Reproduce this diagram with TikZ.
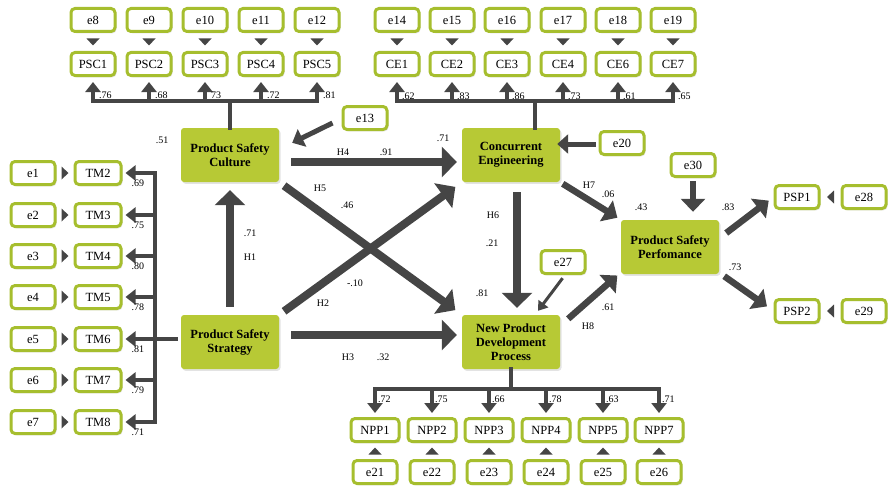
\documentclass[tikz,border=0pt]{standalone}
\usepackage{fontspec}
\setmainfont{Liberation Serif}
\usetikzlibrary{arrows.meta,shadows,decorations.markings}
\definecolor{lime}{HTML}{B7C935}
\definecolor{limeedge}{HTML}{A6BE2E}
\definecolor{arrowgray}{HTML}{454545}

\begin{document}
\begin{tikzpicture}[x=1pt,y=-1pt,
  softshadow/.style={drop shadow={opacity=0.22,shadow xshift=1.5pt,shadow yshift=-1.8pt}},
  obs/.style={draw=limeedge, line width=3pt, fill=white, rounded corners=4pt,
    minimum width=44pt, minimum height=23pt, inner sep=1pt,
    font=\fontsize{12.5}{13}\selectfont, softshadow},
  wideobs/.style={obs, minimum width=48pt},
  lat/.style={fill=lime, rounded corners=3pt, minimum width=98pt, minimum height=54pt,
    align=center, inner sep=2pt, font=\bfseries\fontsize{12.5}{14}\selectfont, softshadow},
  num/.style={font=\fontsize{10}{12}\selectfont, inner sep=0pt},
  big/.style={draw=arrowgray, line width=8pt, -{Triangle[length=15pt,width=30pt]}},
  mid/.style={draw=arrowgray, line width=6.5pt, -{Triangle[length=13pt,width=24pt]}},
  small/.style={draw=arrowgray, line width=5pt, -{Triangle[length=11pt,width=19pt]}},
  load/.style={draw=arrowgray, line width=4.5pt, -{Triangle[length=10pt,width=15pt]}},
  thin/.style={draw=arrowgray, line width=3pt, -{Triangle[length=9pt,width=12pt]}},
  busline/.style={draw=arrowgray, line width=4.5pt, line cap=rect},
  tip/.style={decoration={markings, mark=at position 0.5 with
    {\fill[arrowgray] (-3.5pt,-6.5pt) -- (3.5pt,0pt) -- (-3.5pt,6.5pt) -- cycle;}}, decorate}
]
\useasboundingbox (0,0) rectangle (891,487);

% ---------- latent constructs ----------
\node[lat] (PSC) at (230,155) {Product Safety\\Culture};
\node[lat] (PSS) at (230,342) {Product Safety\\Strategy};
\node[lat] (CE)  at (511,155) {Concurrent\\Engineering};
\node[lat] (NPD) at (511,342) {New Product\\Development\\Process};
\node[lat] (PSPerf) at (670,247) {Product Safety\\Perfomance};

% ---------- Product Safety Culture indicators ----------
\coordinate (pscbus) at (230,101);
\foreach \n/\x [count=\i from 8] in {1/93,2/149,3/205,4/261,5/317}{
  \node[obs] (e\i) at (\x,20) {e\i};
  \node[obs] (PSC\n) at (\x,64) {PSC\n};
  \path[tip] (e\i) -- (PSC\n);
}
\draw[busline] (PSC.north) -- (pscbus);
\draw[busline] (PSC1 |- pscbus) -- (PSC5 |- pscbus);
\foreach \n/\v in {1/.76,2/.68,3/73,4/.72,5/.81}{
  \draw[load, shorten >=5pt] (PSC\n |- pscbus) -- (PSC\n.south);
  \node[num, anchor=west] at ([xshift=6pt,yshift=6pt]PSC\n |- pscbus) {\v};
}

% ---------- Concurrent Engineering indicators ----------
\coordinate (cebus) at (535,101);
\foreach \n/\x [count=\i from 14] in {1/397,2/452,3/507,4/563,6/618,7/673}{
  \node[obs] (e\i) at (\x,20) {e\i};
  \node[obs] (CE\n) at (\x,64) {CE\n};
  \path[tip] (e\i) -- (CE\n);
}
\draw[busline] (CE.north -| cebus) -- (cebus);
\draw[busline] (CE1 |- cebus) -- (CE7 |- cebus);
\foreach \n/\v in {1/.62,2/.83,3/.86,4/.73,6/.61,7/.65}{
  \draw[load, shorten >=5pt] (CE\n |- cebus) -- (CE\n.south);
  \node[num, anchor=west] at ([xshift=5pt,yshift=5pt]CE\n |- cebus) {\v};
}

% ---------- Product Safety Strategy indicators ----------
\coordinate (tmbus) at (155,339);
\foreach \n/\y [count=\i from 1] in {2/173,3/215,4/256,5/297,6/339,7/380,8/422}{
  \node[obs] (e\i) at (33,\y) {e\i};
  \node[obs, minimum width=46pt] (TM\n) at (98,\y) {TM\n};
  \path[tip] (e\i) -- (TM\n);
}
\draw[busline] (tmbus |- TM2) -- (tmbus |- TM8);
\draw[busline] (tmbus) -- ([xshift=-5pt]tmbus -| PSS.west);
\foreach \n/\v in {2/.69,3/.75,4/.80,5/.78,6/.81,7/.79,8/.71}{
  \draw[load, shorten >=3pt] (tmbus |- TM\n) -- (TM\n.east);
  \node[num, anchor=west] at ([xshift=9pt,yshift=-10pt]TM\n.east) {\v};
}

% ---------- New Product Development Process indicators ----------
\coordinate (nppbus) at (511,389);
\foreach \n/\x [count=\i from 21] in {1/375,2/432,3/489,4/546,5/603,7/659}{
  \node[wideobs] (NPP\n) at (\x,430) {NPP\n};
  \node[obs] (e\i) at (\x,472) {e\i};
  \path[tip] (e\i) -- (NPP\n);
}
\draw[busline] (NPD.south) -- (nppbus);
\draw[busline] (NPP1 |- nppbus) -- (NPP7 |- nppbus);
\foreach \n/\v in {1/.72,2/.75,3/.66,4/.78,5/.63,7/.71}{
  \draw[load, shorten >=4pt] (NPP\n |- nppbus) -- (NPP\n.north);
  \node[num, anchor=west] at ([xshift=3pt,yshift=-10pt]NPP\n |- nppbus) {\v};
}

% ---------- Product Safety Performance indicators ----------
\node[obs] (PSP1) at (797,197) {PSP1};
\node[obs] (e28)  at (864,197) {e28};
\node[obs] (PSP2) at (797,311) {PSP2};
\node[obs] (e29)  at (864,311) {e29};
\path[tip] (e28) -- (PSP1);
\path[tip] (e29) -- (PSP2);
\draw[mid, shorten >=6pt] ([xshift=7pt,yshift=14pt]PSPerf.east) -- (PSP1.west);
\draw[mid, shorten >=8pt] ([xshift=5pt,yshift=-2pt]PSPerf.south east) -- (PSP2.west);

% ---------- disturbance terms ----------
\node[obs] (e13) at (365,118) {e13};
\node[obs] (e20) at (622,143) {e20};
\node[obs] (e27) at (563,262) {e27};
\node[obs] (e30) at (693,165) {e30};
\draw[small] ([xshift=-9pt,yshift=-5pt]e13.west) -- ([xshift=13pt,yshift=-15pt]PSC.north east);
\draw[small, shorten <=3pt, shorten >=-3pt] ([yshift=-1pt]e20.west) -- ([yshift=-1pt]e20.west -| CE.east);
\draw[mid, shorten <=3pt, shorten >=8pt] (e30.south) -- (e30.south |- PSPerf.north);
\draw[thin, shorten <=4pt, shorten >=5pt] ([xshift=2pt]e27.south) -- ([xshift=24pt]NPD.north);

% ---------- structural paths ----------
\draw[big, shorten <=8pt, shorten >=8pt] (PSS.north) -- (PSC.south);
\draw[big, shorten <=12pt, shorten >=5pt] ([yshift=-7pt]PSC.east) -- ([yshift=-7pt]CE.west);
\draw[big, shorten <=12pt, shorten >=5pt] ([yshift=7pt]PSS.east) -- ([yshift=7pt]NPD.west);
\draw[big, shorten <=6pt, shorten >=8pt] (PSC.south east) -- (NPD.north west);
\draw[big, shorten <=6pt, shorten >=8pt] (PSS.north east) -- (CE.south west);
\draw[big, shorten <=10pt, shorten >=7pt] ([xshift=6pt]CE.south) -- ([xshift=6pt]NPD.north);
\draw[mid, shorten <=3pt, shorten >=4pt] (CE.south east) -- (PSPerf.north west);
\draw[mid, shorten >=2pt] ([xshift=8pt,yshift=-4pt]NPD.north east) -- ([xshift=-2pt]PSPerf.south west);

% ---------- path labels ----------
\node[num] at (162,140) {.51};
\node[num] at (250,233) {.71};
\node[num] at (250,257) {H1};
\node[num] at (343,152) {H4};
\node[num] at (386,152) {.91};
\node[num] at (443,138) {.71};
\node[num] at (320,188) {H5};
\node[num] at (347,205) {.46};
\node[num] at (355,283) {-.10};
\node[num] at (323,303) {H2};
\node[num] at (348,357) {H3};
\node[num] at (383,357) {.32};
\node[num] at (493,215) {H6};
\node[num] at (492,243) {.21};
\node[num] at (482,293) {.81};
\node[num] at (589,185) {H7};
\node[num] at (608,194) {.06};
\node[num] at (641,207) {.43};
\node[num] at (728,207) {.83};
\node[num] at (735,267) {.73};
\node[num] at (608,307) {.61};
\node[num] at (588,326) {H8};
\end{tikzpicture}
\end{document}
